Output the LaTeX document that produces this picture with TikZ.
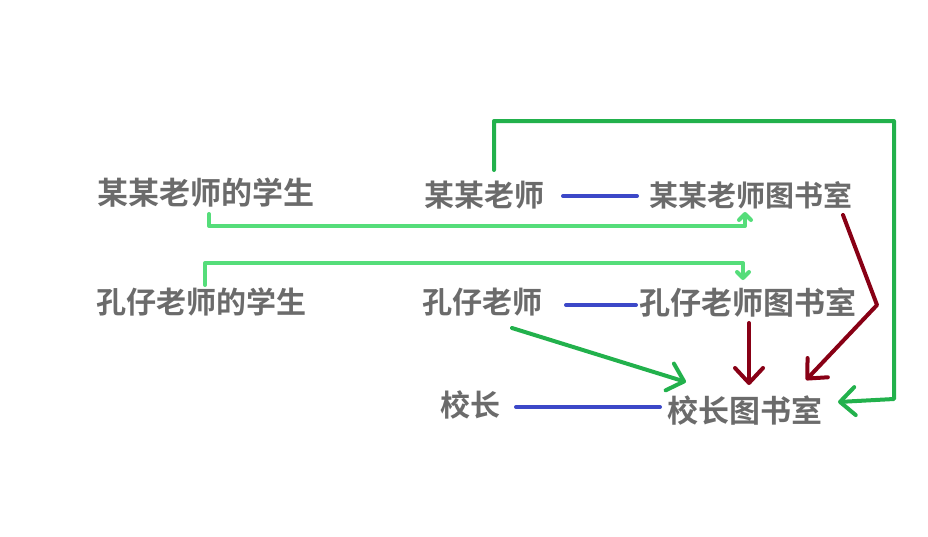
\documentclass[tikz,border=0pt]{standalone}
\usepackage{fontspec}
\newfontfamily\cjk{Noto Sans CJK SC Bold}
\usetikzlibrary{arrows.meta}
\definecolor{txtgray}{HTML}{6B6B6B}
\definecolor{blueline}{HTML}{3C48C8}
\definecolor{lgreen}{HTML}{55DD7A}
\definecolor{dgreen}{HTML}{22B14C}
\definecolor{dred}{HTML}{880015}
\tikzset{
  lbl/.style={font=\cjk\fontsize{30}{30}\selectfont, text=txtgray, inner sep=0pt, anchor=center},
  link/.style={line width=4pt, line cap=round, line join=round},
  bigtip/.style={-{Straight Barb[length=15pt,width=28pt,line width=4pt,round]}},
  smalltip/.style={-{Straight Barb[length=6pt,width=12pt,line width=4pt,round]}},
}
\begin{document}
\begin{tikzpicture}[x=1pt,y=-1pt]
\useasboundingbox (0,0) rectangle (928,536);
\node[lbl, font=\cjk\fontsize{31}{31}\selectfont] (ks) at (206,193) {某某老师的学生};
\node[lbl] (kt) at (484,195) {某某老师};
\node[lbl, font=\cjk\fontsize{29}{29}\selectfont] (kl) at (751,195) {某某老师图书室};
\node[lbl] (zs) at (201,302) {孔仔老师的学生};
\node[lbl] (zt) at (482,302) {孔仔老师};
\node[lbl, font=\cjk\fontsize{31}{31}\selectfont] (zl) at (748,302) {孔仔老师图书室};
\node[lbl] (xz) at (470,405) {校长};
\node[lbl, font=\cjk\fontsize{31}{31}\selectfont] (xl) at (745,410) {校长图书室};
% blue links
\draw[link, blueline] (563,196) coordinate (b1a) -- (637,196) coordinate (b1b);
\draw[link, blueline] (566,305) coordinate (b2a) -- (636,305) coordinate (b2b);
\draw[link, blueline] (516,407) coordinate (b3a) -- (660,407) coordinate (b3b);
% light green
\coordinate (g1s) at (209,214);
\coordinate (g1e) at (745,212);
\draw[link, lgreen, smalltip] (g1s) -- (209,226) -- (745,226) -- (g1e);
\coordinate (g2s) at (205,285);
\coordinate (g2e) at (743,280);
\draw[link, lgreen, smalltip] (g2s) -- (205,263) -- (743,263) -- (g2e);
% dark green
\coordinate (d1s) at (494,170);
\coordinate (d1e) at (838,402);
\draw[link, dgreen, bigtip] (d1s) -- (494,121) -- (894,121) -- (894,399) -- (d1e);
\coordinate (d2s) at (512,328);
\coordinate (d2e) at (686,382);
\draw[link, dgreen, bigtip] (d2s) -- (d2e);
% dark red
\coordinate (r1s) at (749,323);
\coordinate (r1e) at (749,385);
\draw[link, dred, bigtip] (r1s) -- (r1e);
\coordinate (r2s) at (843,215);
\coordinate (r2e) at (806,380);
\draw[link, dred, bigtip] (r2s) -- (877,305) -- (r2e);
\end{tikzpicture}
\end{document}
